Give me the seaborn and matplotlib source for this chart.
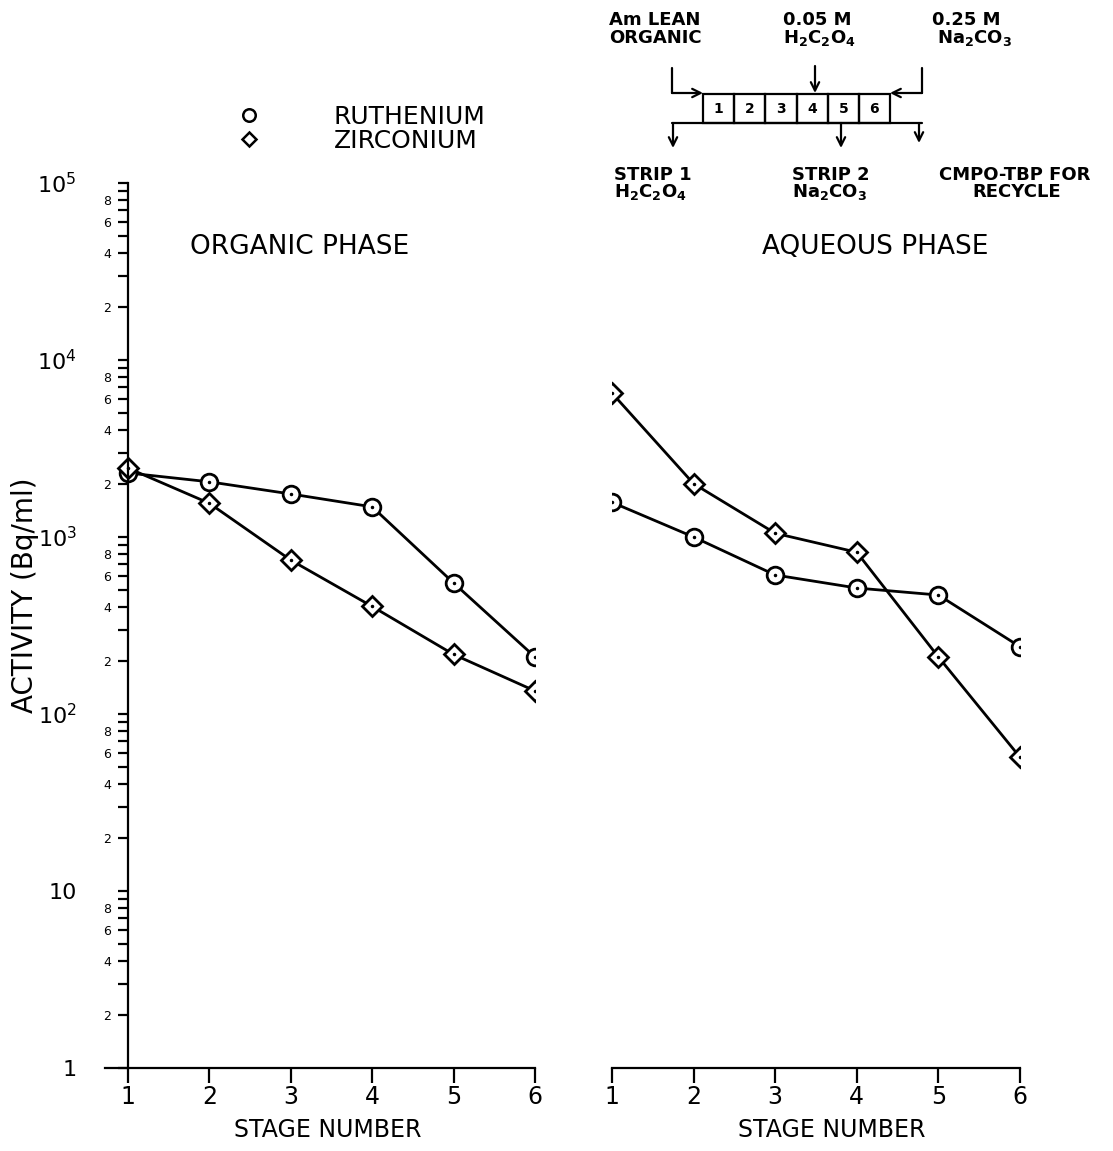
import matplotlib
matplotlib.use("Agg")
import numpy as np
import pandas as pd
import matplotlib.pyplot as plt
import seaborn as sns
from matplotlib.ticker import FixedLocator, LogLocator, FuncFormatter
from matplotlib.lines import Line2D
from matplotlib.patches import Rectangle

# Data (Bq/ml per stage)
stages = [1, 2, 3, 4, 5, 6]
organic_ru = [2300, 2050, 1750, 1480, 550, 210]
organic_zr = [2450, 1550, 740, 405, 217, 135]
aqueous_ru = [1570, 1000, 610, 515, 470, 240]
aqueous_zr = [6500, 2000, 1050, 820, 210, 57]

elements = ["RUTHENIUM", "ZIRCONIUM"]
markers = {"RUTHENIUM": "o", "ZIRCONIUM": "D"}
msizes = {"RUTHENIUM": 12, "ZIRCONIUM": 10}

# long table
rows = []
for phase, ru, zr in [("ORGANIC", organic_ru, organic_zr), ("AQUEOUS", aqueous_ru, aqueous_zr)]:
    for s, r, z in zip(stages, ru, zr):
        rows.append((phase, "RUTHENIUM", s, r))
        rows.append((phase, "ZIRCONIUM", s, z))
df = pd.DataFrame(rows, columns=["phase", "element", "stage", "activity"])

sns.set_style("ticks")
plt.rcParams["font.family"] = ["DejaVu Sans"]
plt.rcParams["mathtext.default"] = "regular"
for k in ["text.color", "axes.labelcolor", "xtick.color", "ytick.color", "axes.edgecolor"]:
    plt.rcParams[k] = "black"

W, H = 1113, 1151
fig = plt.figure(figsize=(W / 100, H / 100), dpi=100)
ax1 = fig.add_axes([105 / W, 1 - 1068 / H, 430 / W, 885 / H])
ax2 = fig.add_axes([612 / W, 1 - 1068 / H, 408 / W, 885 / H])

for ax, phase in [(ax1, "ORGANIC"), (ax2, "AQUEOUS")]:
    for el in elements:
        sub = df[(df.phase == phase) & (df.element == el)]
        sns.lineplot(data=sub, x="stage", y="activity", ax=ax, color="black",
                     lw=2, marker=markers[el], markersize=msizes[el],
                     markerfacecolor="white", markeredgecolor="black",
                     markeredgewidth=2, legend=False)
        # small dot in the middle of each marker
        ax.plot(sub.stage, sub.activity, ls="none", marker=".", ms=3, color="black")
    ax.set_yscale("log")
    ax.set_ylim(1, 1e5)
    ax.set_xticks(stages)
    ax.set_xlabel("STAGE NUMBER", fontsize=17)
    ax.set_ylabel("")
    ax.spines[["top", "right"]].set_visible(False)
    for sp in ax.spines.values():
        sp.set_linewidth(1.6)
    ax.tick_params(axis="x", direction="out", length=11, width=1.6, pad=1, labelsize=17)
    ax.patch.set_visible(False)

# left panel: y axis sits at stage 1, x axis runs a bit past it
ax1.set_xlim(1 - 23 / 81.4, 6)
ax1.spines["left"].set_position(("data", 1))
ax1.yaxis.set_major_locator(FixedLocator([1, 10, 100, 1e3, 1e4, 1e5]))
ax1.yaxis.set_major_formatter(FuncFormatter(
    lambda v, p: {1: "1", 10: "10"}.get(int(round(v)), "$10^{%d}$" % round(np.log10(v)))))
ax1.yaxis.set_minor_locator(LogLocator(base=10, subs=range(2, 10)))
ax1.yaxis.set_minor_formatter(FuncFormatter(
    lambda v, p: str(int(round(v / 10 ** np.floor(np.log10(v) + 1e-9))))
    if int(round(v / 10 ** np.floor(np.log10(v) + 1e-9))) in (2, 4, 6, 8) else ""))
ax1.tick_params(axis="y", which="major", direction="out", length=7, width=1.6, pad=30, labelsize=16)
ax1.tick_params(axis="y", which="minor", direction="out", length=7, width=1.6, pad=5, labelsize=9)

# right panel: no y axis
ax2.set_xlim(1, 6)
ax2.spines["left"].set_visible(False)
ax2.tick_params(axis="y", which="both", left=False, labelleft=False)

ax1.xaxis.set_label_coords((328 - 105) / 430, -0.056)
ax2.xaxis.set_label_coords((832 - 612) / 408, -0.056)

ax1.text((300 - 105) / 430, (1068 - 247) / 885, "ORGANIC PHASE", transform=ax1.transAxes,
         ha="center", va="center", fontsize=19)
ax2.text((875 - 612) / 408, (1068 - 247) / 885, "AQUEOUS PHASE", transform=ax2.transAxes,
         ha="center", va="center", fontsize=19)

fig.text(25 / W, 1 - 595 / H, "ACTIVITY (Bq/ml)", rotation=90, ha="center", va="center", fontsize=20)

# legend
handles = [Line2D([], [], ls="none", marker=markers[el], ms=9 if el == "RUTHENIUM" else 7,
                  mfc="white", mec="black", mew=1.8) for el in elements]
ax1.legend(handles, elements, loc="center left", bbox_to_anchor=(0.276, 1.061),
           frameon=False, fontsize=18, handlelength=1.0, handletextpad=2.9,
           labelspacing=0.0, borderpad=0)

# flow diagram at the top right, in pixel coordinates
ov = fig.add_axes([0, 0, 1, 1])
ov.set_xlim(0, W)
ov.set_ylim(H, 0)
ov.axis("off")
lw = 1.6
box_x = np.linspace(703, 890, 7)
for i in range(6):
    ov.add_patch(Rectangle((box_x[i], 94), box_x[i + 1] - box_x[i], 29, fill=False, lw=lw, ec="black"))
    ov.text((box_x[i] + box_x[i + 1]) / 2, 109, str(i + 1), ha="center", va="center",
            fontsize=10, fontweight="bold")
# feeds in
ov.plot([672, 672], [68, 93], color="black", lw=lw)
ov.plot([922, 922], [68, 93], color="black", lw=lw)
arr = dict(arrowstyle="->", color="black", lw=lw, mutation_scale=15, shrinkA=0, shrinkB=0)
ov.annotate("", xy=(703, 93), xytext=(672, 93), arrowprops=arr)
ov.annotate("", xy=(890, 93), xytext=(922, 93), arrowprops=arr)
ov.annotate("", xy=(815, 93), xytext=(815, 66), arrowprops=arr)
# streams out
ov.plot([672, 922], [123, 123], color="black", lw=lw)
for x0, y1 in [(673, 148), (841, 148), (919, 143)]:
    ov.annotate("", xy=(x0, y1), xytext=(x0, 123), arrowprops=arr)

tkw = dict(fontsize=13, fontweight="bold", va="center")
ov.text(609, 20, "Am LEAN", ha="left", **tkw)
ov.text(609, 38, "ORGANIC", ha="left", **tkw)
ov.text(783, 20, "0.05 M", ha="left", **tkw)
ov.text(783, 38, "H$_2$C$_2$O$_4$", ha="left", **tkw)
ov.text(932, 20, "0.25 M", ha="left", **tkw)
ov.text(937, 38, "Na$_2$CO$_3$", ha="left", **tkw)
ov.text(614, 175, "STRIP 1", ha="left", **tkw)
ov.text(614, 192, "H$_2$C$_2$O$_4$", ha="left", **tkw)
ov.text(792, 175, "STRIP 2", ha="left", **tkw)
ov.text(792, 192, "Na$_2$CO$_3$", ha="left", **tkw)
ov.text(1015, 175, "CMPO-TBP FOR", ha="center", **tkw)
ov.text(1017, 192, "RECYCLE", ha="center", **tkw)

fig.savefig("out.png", dpi=100)
